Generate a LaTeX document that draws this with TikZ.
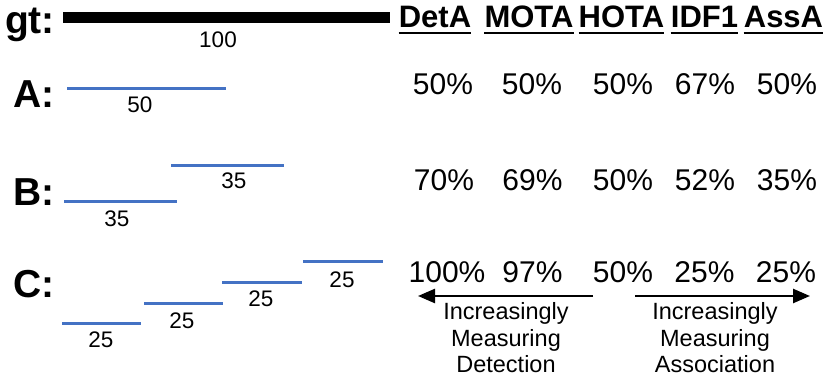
\documentclass[tikz,border=0pt]{standalone}
\usepackage{fontspec}
\setmainfont{Liberation Sans}
\usetikzlibrary{arrows.meta}
\definecolor{segblue}{HTML}{4472C4}
\begin{document}
\begin{tikzpicture}[x=1pt,y=-1pt,
  lbl/.style={font=\fontsize{39}{43}\selectfont\bfseries, inner sep=0pt, anchor=base east},
  hdr/.style={font=\fontsize{31}{35}\selectfont\bfseries, inner sep=0pt, anchor=base},
  val/.style={font=\fontsize{30}{34}\selectfont, inner sep=0pt, anchor=base},
  len/.style={font=\fontsize{22.5}{26}\selectfont, inner sep=0pt, anchor=base},
  seg/.style={segblue, line width=3pt},
  gtbar/.style={black, line width=11pt},
  uline/.style={line width=2pt},
  arr/.style={line width=2.5pt, -{Triangle[length=17pt,width=14pt]}},
  note/.style={font=\fontsize{23.5}{26.5}\selectfont, align=center, inner sep=0pt}
]
\useasboundingbox (0,0) rectangle (830,377);

% row labels
\node[lbl] (lgt) at (55,34) {gt:};
\node[lbl] (lA) at (55,108) {A:};
\node[lbl] (lB) at (55,205) {B:};
\node[lbl] (lC) at (55,297) {C:};

% ground truth
\coordinate (g1) at (63,17.5);
\coordinate (g2) at (390,17.5);
\draw[gtbar] (g1) -- (g2);
\node[len] (n100) at (218,48) {100};

% A
\coordinate (a1) at (67,89);
\coordinate (a2) at (226,89);
\draw[seg] (a1) -- (a2);
\node[len] (nA) at (140,113) {50};

% B
\coordinate (b1) at (171,166);
\coordinate (b2) at (284,166);
\draw[seg] (b1) -- (b2);
\node[len] (nB1) at (234,188) {35};
\coordinate (b3) at (64,201);
\coordinate (b4) at (177,201);
\draw[seg] (b3) -- (b4);
\node[len] (nB2) at (117,226) {35};

% C
\coordinate (c1) at (62,323);
\coordinate (c2) at (141,323);
\draw[seg] (c1) -- (c2);
\node[len] (nC1) at (101,347) {25};
\coordinate (c3) at (144,303);
\coordinate (c4) at (223,303);
\draw[seg] (c3) -- (c4);
\node[len] (nC2) at (182,328) {25};
\coordinate (c5) at (222,282);
\coordinate (c6) at (302,282);
\draw[seg] (c5) -- (c6);
\node[len] (nC3) at (261,306) {25};
\coordinate (c7) at (303,261);
\coordinate (c8) at (383,261);
\draw[seg] (c7) -- (c8);
\node[len] (nC4) at (342,287) {25};

% headers
\node[hdr] (h1) at (435,28) {DetA};
\node[hdr] (h2) at (529,28) {MOTA};
\node[hdr] (h3) at (621.5,28) {HOTA};
\node[hdr] (h4) at (704.5,28) {IDF1};
\node[hdr] (h5) at (783.5,28) {AssA};
\foreach \h in {h1,h2,h3,h4,h5}{
  \draw[uline] ([yshift=-5pt]\h.base west) -- ([yshift=-5pt]\h.base east);
}

% values
\node[val] (vA1) at (443,95) {50\%};
\node[val] (vA2) at (532,95) {50\%};
\node[val] (vA3) at (623,95) {50\%};
\node[val] (vA4) at (705,95) {67\%};
\node[val] (vA5) at (787,95) {50\%};

\node[val] (vB1) at (444,190) {70\%};
\node[val] (vB2) at (532.5,190) {69\%};
\node[val] (vB3) at (623,190) {50\%};
\node[val] (vB4) at (705,190) {52\%};
\node[val] (vB5) at (787,190) {35\%};

\node[val] (vC1) at (447,282) {100\%};
\node[val] (vC2) at (532.5,282) {97\%};
\node[val] (vC3) at (623,282) {50\%};
\node[val] (vC4) at (704.5,282) {25\%};
\node[val] (vC5) at (786,282) {25\%};

% arrows
\coordinate (ld1) at (593,296);
\coordinate (ld2) at (418,296);
\draw[arr] (ld1) -- (ld2);
\coordinate (ra1) at (635,296);
\coordinate (ra2) at (810,296);
\draw[arr] (ra1) -- (ra2);

\node[note] (tdet) at (506,338) {Increasingly\\Measuring\\Detection};
\node[note] (tass) at (715,338) {Increasingly\\Measuring\\Association};
\end{tikzpicture}
\end{document}
